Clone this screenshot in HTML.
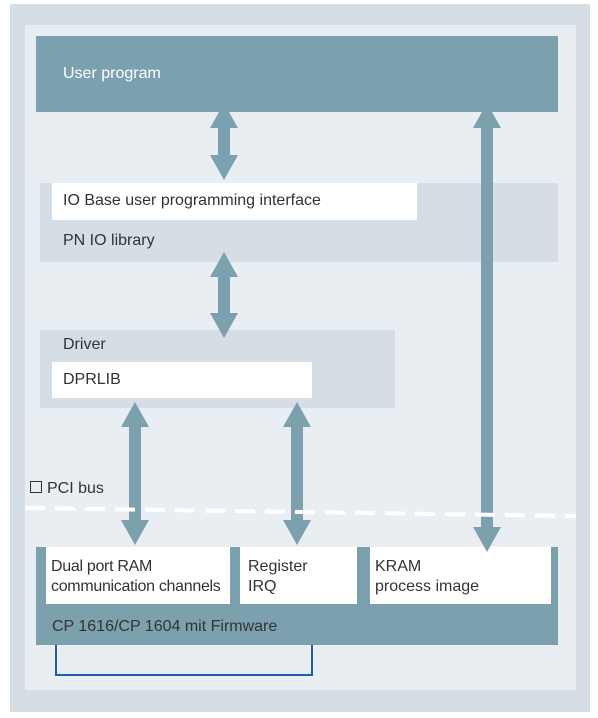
<!DOCTYPE html>
<html><head><style>
body{margin:0;width:598px;height:718px;background:#fff;font-family:"Liberation Sans",sans-serif;overflow:hidden}
.a{position:absolute}
.t{position:absolute;font-size:16px;color:#333;line-height:18px}
</style></head><body>
<div class="a" style="left:10px;top:4px;width:580px;height:708px;background:#d5dee4"></div>
<div class="a" style="left:25px;top:25px;width:551px;height:665px;background:#e8eef2"></div>
<div class="a" style="left:36px;top:36px;width:522px;height:76px;background:#7ba0ae"></div>
<div class="t" style="left:63px;top:65px;color:#fff">User program</div>
<div class="a" style="left:40px;top:183px;width:518px;height:79px;background:#d5dee4"></div>
<div class="a" style="left:52px;top:183px;width:365px;height:37px;background:#fff"></div>
<div class="t" style="left:63px;top:192px">IO Base user programming interface</div>
<div class="t" style="left:63px;top:232px">PN IO library</div>
<div class="a" style="left:40px;top:330px;width:355px;height:78px;background:#d5dee4"></div>
<div class="t" style="left:63px;top:336px">Driver</div>
<div class="a" style="left:52px;top:362px;width:260px;height:36px;background:#fff"></div>
<div class="t" style="left:63px;top:371px">DPRLIB</div>
<div class="t" style="left:30px;top:480px"><span style="display:inline-block;width:10px;height:10px;border:1px solid #333;vertical-align:0px;margin-right:5px"></span>PCI bus</div>
<div class="a" style="left:36px;top:547px;width:522px;height:98px;background:#7ba0ae"></div>
<div class="a" style="left:46px;top:547px;width:184px;height:57px;background:#fff"></div>
<div class="a" style="left:240px;top:547px;width:117px;height:57px;background:#fff"></div>
<div class="a" style="left:370px;top:547px;width:181px;height:57px;background:#fff"></div>
<div class="t" style="left:51px;top:557px;line-height:20px;letter-spacing:-0.3px">Dual port RAM<br>communication channels</div>
<div class="t" style="left:248px;top:557px;line-height:20px">Register<br>IRQ</div>
<div class="t" style="left:375px;top:557px;line-height:20px">KRAM<br>process image</div>
<div class="t" style="left:52px;top:618px">CP 1616/CP 1604 mit Firmware</div>
<svg class="a" style="left:0;top:0" width="598" height="718">
<g fill="#7ba0ae">
<polygon points="224,103 238,128 230,128 230,155 238,155 224,180 210,155 218,155 218,128 210,128"/>
<polygon points="224,252 238,277 230,277 230,313 238,313 224,338 210,313 218,313 218,277 210,277"/>
<polygon points="487,103 501,128 493,128 493,527 501,527 487,552 473,527 481,527 481,128 473,128"/>
<polygon points="135,402 149,427 141,427 141,520 149,520 135,545 121,520 129,520 129,427 121,427"/>
<polygon points="297,402 311,427 303,427 303,520 311,520 297,545 283,520 291,520 291,427 283,427"/>
</g>
<line x1="25" y1="508" x2="576" y2="516" stroke="#fff" stroke-width="4" stroke-dasharray="20,10"/>
<polyline points="56,645 56,675 312,675 312,645" fill="none" stroke="#1f5fa8" stroke-width="2"/>
</svg>
</body></html>
